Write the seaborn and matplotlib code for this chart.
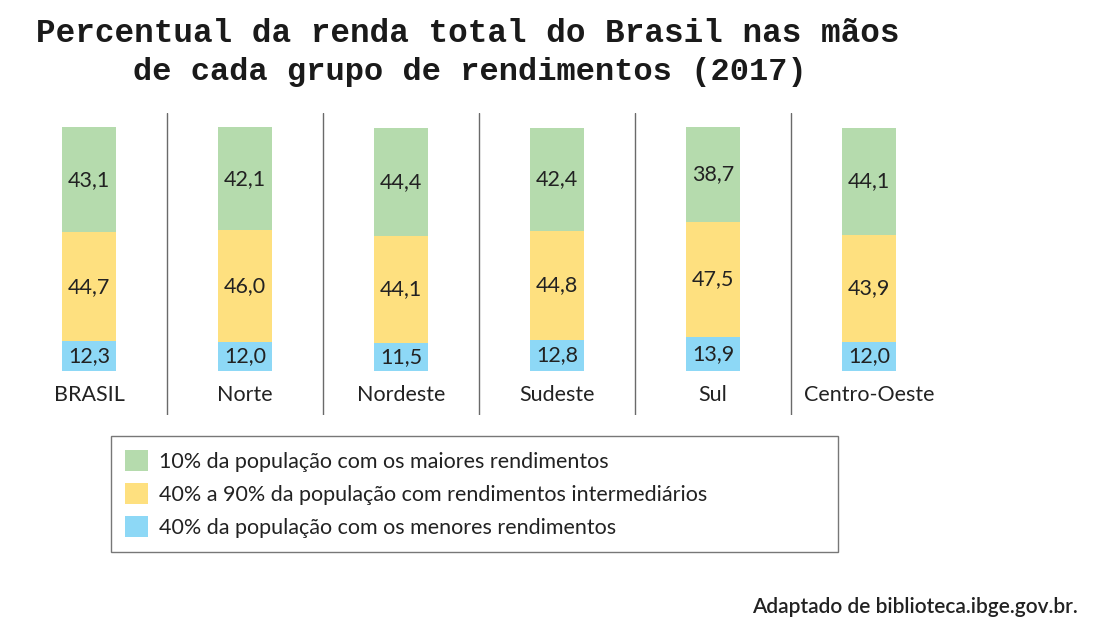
import matplotlib
matplotlib.use('Agg')
import matplotlib.pyplot as plt
from matplotlib.patches import Patch
import numpy as np
import pandas as pd
import seaborn as sns

# dados (IBGE 2017)
regioes = ['BRASIL', 'Norte', 'Nordeste', 'Sudeste', 'Sul', 'Centro-Oeste']
menores = [12.3, 12.0, 11.5, 12.8, 13.9, 12.0]
intermediarios = [44.7, 46.0, 44.1, 44.8, 47.5, 43.9]
maiores = [43.1, 42.1, 44.4, 42.4, 38.7, 44.1]

legenda = ['10% da população com os maiores rendimentos',
           '40% a 90% da população com rendimentos intermediários',
           '40% da população com os menores rendimentos']

cor_verde = '#b5dbad'
cor_amarelo = '#fee07f'
cor_azul = '#8dd8f6'
cor_texto = '#222222'

sns.set_style('white')
plt.rcParams['font.family'] = ['Lato', 'DejaVu Sans']

W, H = 1097, 628
fig = plt.figure(figsize=(W / 100, H / 100), dpi=100)
# eixo posicionado em pixels
ax = fig.add_axes([11 / W, 213 / H, 936 / W, 302 / H])

df = pd.DataFrame({'regiao': regioes, 'menores': menores,
                   'intermediarios': intermediarios, 'maiores': maiores})
base_meio = df['menores']
base_topo = df['menores'] + df['intermediarios']

opts = dict(width=0.34, saturation=1, linewidth=0, ax=ax)
sns.barplot(data=df, x='regiao', y='menores', color=cor_azul, **opts)
sns.barplot(data=df, x='regiao', y='intermediarios', bottom=base_meio,
            color=cor_amarelo, **opts)
sns.barplot(data=df, x='regiao', y='maiores', bottom=base_topo,
            color=cor_verde, **opts)

def fmt(v):
    return f'{v:.1f}'.replace('.', ',')

for i in range(len(regioes)):
    ax.text(i, menores[i] / 2, fmt(menores[i]), ha='center', va='center',
            fontsize=15.5, color=cor_texto)
    ax.text(i, base_meio[i] + intermediarios[i] / 2, fmt(intermediarios[i]),
            ha='center', va='center', fontsize=15.5, color=cor_texto)
    ax.text(i, base_topo[i] + maiores[i] / 2, fmt(maiores[i]), ha='center',
            va='center', fontsize=15.5, color=cor_texto)
    ax.text(i, -9.8, regioes[i], ha='center', va='center', fontsize=15.5,
            color=cor_texto)

# linhas separadoras
for i in range(len(regioes) - 1):
    ax.plot([i + 0.5, i + 0.5], [-18, 106], color='#6a6a6a', lw=1.0)

ax.set_xlim(-0.5, len(regioes) - 0.5)
ax.set_ylim(-18, 106)
ax.axis('off')

# título
fig.text(468 / W, 1 - 42 / H, 'Percentual da renda total do Brasil nas mãos',
         ha='center', va='baseline', fontsize=23.5, fontweight='bold',
         family=['Liberation Mono', 'DejaVu Sans Mono'], color='#1a1a1a')
fig.text(470 / W, 1 - 80 / H, 'de cada grupo de rendimentos (2017)',
         ha='center', va='baseline', fontsize=23, fontweight='bold',
         family=['Liberation Mono', 'DejaVu Sans Mono'], color='#1a1a1a')

# legenda
handles = [Patch(facecolor=cor_verde, edgecolor='none'),
           Patch(facecolor=cor_amarelo, edgecolor='none'),
           Patch(facecolor=cor_azul, edgecolor='none')]
leg = fig.legend(handles, legenda, loc='upper left',
                 bbox_to_anchor=(111 / W, 1 - 437 / H, 727 / W, 0.001),
                 mode='expand', fontsize=15.5, frameon=True, fancybox=False,
                 edgecolor='#555555', handlelength=1.05, handleheight=1.1,
                 handletextpad=0.55, labelspacing=0.53, borderpad=0.65,
                 borderaxespad=0)
leg.get_frame().set_linewidth(1.0)
for t in leg.get_texts():
    t.set_color(cor_texto)

# fonte
fig.text(1078 / W, 1 - 607 / H, 'Adaptado de biblioteca.ibge.gov.br.',
         ha='right', va='center', fontsize=15, fontweight='semibold',
         color=cor_texto)

fig.savefig('out.png', dpi=100)
